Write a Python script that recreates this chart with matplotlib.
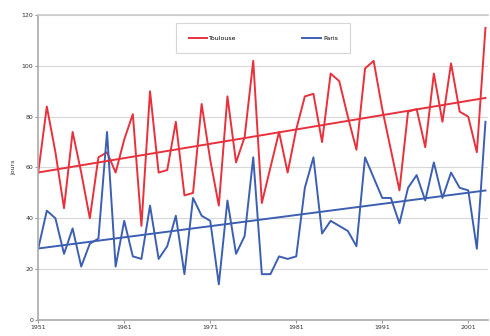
import matplotlib.pyplot as plt
import numpy as np

years = np.arange(1951, 2004)
toulouse = [58, 84, 66, 44, 74, 58, 40, 64, 66, 58, 71, 81, 37, 90, 58, 59, 78, 49,
            50, 85, 63, 45, 88, 62, 72, 102, 46, 60, 74, 58, 75, 88, 89, 70, 97, 94,
            80, 67, 99, 102, 83, 67, 51, 82, 83, 68, 97, 78, 101, 82, 80, 66, 115]
paris = [28, 43, 40, 26, 36, 21, 30, 32, 74, 21, 39, 25, 24, 45, 24, 29, 41, 18,
         48, 41, 39, 14, 47, 26, 33, 64, 18, 18, 25, 24, 25, 52, 64, 34, 39, 37,
         35, 29, 64, 56, 48, 48, 38, 52, 57, 47, 62, 48, 58, 52, 51, 28, 78]
xticks = [1951, 1961, 1971, 1981, 1991, 2001]

red = '#e8313c'
blue = '#3d5fb2'

fig = plt.figure(figsize=(4.9, 3.36), dpi=100)
ax = fig.add_axes([0.078, 0.048, 0.918, 0.907])

ax.plot(years, toulouse, color=red, lw=1.4, label='Toulouse')
ax.plot(years, paris, color=blue, lw=1.4, label='Paris')

# droites de tendance
for serie, c in [(toulouse, red), (paris, blue)]:
    a, b = np.polyfit(years, serie, 1)
    ax.plot(years, a * years + b, color=c, lw=1.4)

ax.set_xlim(1951, 2003.3)
ax.set_ylim(0, 120)
ax.set_yticks(range(0, 121, 20))
ax.set_xticks(xticks)
ax.tick_params(labelsize=4.5, length=2, color='#999999', labelcolor='#333333', pad=1.5)
ax.yaxis.grid(True, color='#d8d8d8', lw=0.8)
ax.set_axisbelow(True)
ax.spines['right'].set_visible(False)
ax.spines['top'].set_color('#cccccc')
ax.spines['top'].set_linewidth(1.2)
for s in ['left', 'bottom']:
    ax.spines[s].set_color('#aaaaaa')
    ax.spines[s].set_linewidth(1.2)
ax.set_ylabel('jours', fontsize=4.5, color='#333333', labelpad=4)

leg = ax.legend(loc='upper center', bbox_to_anchor=(0.5, 0.985), ncol=2, fontsize=4.5,
                frameon=True, fancybox=False, edgecolor='#cccccc', handlelength=3,
                columnspacing=10.5, borderpad=2.0, handletextpad=0.3)
leg.get_frame().set_linewidth(0.8)

fig.savefig('out.png', dpi=100)
